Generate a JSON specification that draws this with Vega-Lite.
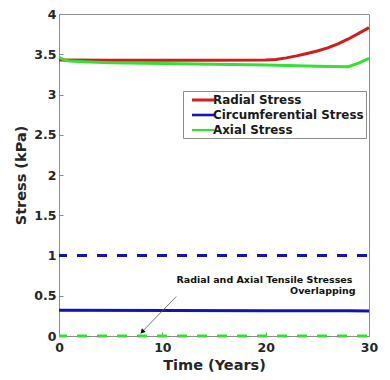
{
  "$schema": "https://vega.github.io/schema/vega-lite/v6.json",
  "autosize": "none",
  "width": 310,
  "height": 322,
  "padding": {"left": 59, "top": 14, "right": 21, "bottom": 44},
  "background": "white",
  "config": {
    "font": "DejaVu Sans",
    "view": {"stroke": "#8c8c8c", "strokeWidth": 1},
    "axis": {
      "grid": false,
      "domainColor": "#8c8c8c",
      "tickColor": "#8c8c8c",
      "labelFont": "DejaVu Sans",
      "labelFontWeight": "bold",
      "labelFontSize": 12.5,
      "labelColor": "#262626",
      "titleFont": "DejaVu Sans",
      "titleFontWeight": "bold",
      "titleFontSize": 14.5,
      "titleColor": "#262626"
    },
    "legend": {
      "labelFont": "DejaVu Sans",
      "labelFontWeight": "bold",
      "labelFontSize": 11.9,
      "labelColor": "#1a1a1a",
      "labelLimit": 300
    }
  },
  "datasets": {
    "main": [
      {"t": 0, "stress": 3.43, "series": "Radial Stress"},
      {"t": 5, "stress": 3.425, "series": "Radial Stress"},
      {"t": 10, "stress": 3.425, "series": "Radial Stress"},
      {"t": 15, "stress": 3.425, "series": "Radial Stress"},
      {"t": 20, "stress": 3.43, "series": "Radial Stress"},
      {"t": 21, "stress": 3.435, "series": "Radial Stress"},
      {"t": 22, "stress": 3.455, "series": "Radial Stress"},
      {"t": 23, "stress": 3.48, "series": "Radial Stress"},
      {"t": 24, "stress": 3.51, "series": "Radial Stress"},
      {"t": 25, "stress": 3.54, "series": "Radial Stress"},
      {"t": 26, "stress": 3.58, "series": "Radial Stress"},
      {"t": 27, "stress": 3.63, "series": "Radial Stress"},
      {"t": 28, "stress": 3.69, "series": "Radial Stress"},
      {"t": 29, "stress": 3.76, "series": "Radial Stress"},
      {"t": 30, "stress": 3.83, "series": "Radial Stress"},
      {"t": 0, "stress": 0.32, "series": "Circumferential Stress"},
      {"t": 11, "stress": 0.318, "series": "Circumferential Stress"},
      {"t": 20, "stress": 0.315, "series": "Circumferential Stress"},
      {"t": 28, "stress": 0.313, "series": "Circumferential Stress"},
      {"t": 30, "stress": 0.31, "series": "Circumferential Stress"},
      {"t": 0, "stress": 3.46, "series": "Axial Stress"},
      {"t": 0.5, "stress": 3.43, "series": "Axial Stress"},
      {"t": 1, "stress": 3.415, "series": "Axial Stress"},
      {"t": 3, "stress": 3.405, "series": "Axial Stress"},
      {"t": 5, "stress": 3.395, "series": "Axial Stress"},
      {"t": 10, "stress": 3.385, "series": "Axial Stress"},
      {"t": 15, "stress": 3.375, "series": "Axial Stress"},
      {"t": 20, "stress": 3.365, "series": "Axial Stress"},
      {"t": 25, "stress": 3.352, "series": "Axial Stress"},
      {"t": 28, "stress": 3.345, "series": "Axial Stress"},
      {"t": 29, "stress": 3.39, "series": "Axial Stress"},
      {"t": 30, "stress": 3.45, "series": "Axial Stress"}
    ],
    "tensile": [
      {"t": 0, "stress": 1.0, "series": "Circumferential Tensile"},
      {"t": 30, "stress": 1.0, "series": "Circumferential Tensile"},
      {"t": 0, "stress": 0.0, "series": "Radial and Axial Tensile"},
      {"t": 30, "stress": 0.0, "series": "Radial and Axial Tensile"}
    ],
    "note": [
      {"t": 28.4, "stress": 0.70, "label": "Radial and Axial Tensile Stresses"},
      {"t": 28.7, "stress": 0.56, "label": "Overlapping"}
    ],
    "arrow": [
      {"t": 11.34, "stress": 0.49, "t2": 8.1, "stress2": 0.06}
    ]
  },
  "layer": [
    {
      "data": {"name": "tensile"},
      "mark": {"type": "line", "strokeWidth": 3.2, "strokeDash": [10, 10], "strokeDashOffset": 2, "clip": false},
      "encoding": {
        "x": {"field": "t", "type": "quantitative"},
        "y": {"field": "stress", "type": "quantitative"},
        "detail": {"field": "series"},
        "stroke": {
          "field": "series",
          "type": "nominal",
          "scale": {"domain": ["Circumferential Tensile", "Radial and Axial Tensile"], "range": ["#1414b4", "#33e033"]},
          "legend": null
        }
      }
    },
    {
      "data": {"name": "main"},
      "mark": {"type": "line", "strokeWidth": 3, "clip": false},
      "encoding": {
        "x": {
          "field": "t",
          "type": "quantitative",
          "scale": {"domain": [0, 30], "nice": false},
          "axis": {"values": [0, 10, 20, 30], "title": "Time (Years)", "tickSize": -4, "labelPadding": 9, "titlePadding": 5, "labelFlush": false}
        },
        "y": {
          "field": "stress",
          "type": "quantitative",
          "scale": {"domain": [0, 4], "nice": false},
          "axis": {"values": [0, 0.5, 1, 1.5, 2, 2.5, 3, 3.5, 4], "format": "~g", "title": "Stress (kPa)", "tickSize": -4, "labelPadding": 7, "titlePadding": 5}
        },
        "color": {
          "field": "series",
          "type": "nominal",
          "sort": ["Radial Stress", "Circumferential Stress", "Axial Stress"],
          "scale": {"domain": ["Radial Stress", "Circumferential Stress", "Axial Stress"], "range": ["#d01e1e", "#1414b4", "#33e033"]},
          "legend": {
            "title": null,
            "orient": "none",
            "legendX": 124,
            "legendY": 77,
            "symbolType": "M0,0H4",
            "symbolSize": 121,
            "symbolStrokeWidth": 3,
            "labelOffset": 14,
            "rowPadding": 2,
            "padding": 2,
            "offset": 0,
            "strokeColor": "#8c8c8c",
            "fillColor": "white"
          }
        },
        "strokeWidth": {
          "field": "series",
          "type": "nominal",
          "scale": {"domain": ["Radial Stress", "Circumferential Stress", "Axial Stress"], "range": [3, 2.2, 3]},
          "legend": null
        }
      }
    },
    {
      "data": {"name": "arrow"},
      "mark": {"type": "rule", "color": "#555555", "strokeWidth": 0.8},
      "encoding": {
        "x": {"field": "t", "type": "quantitative"},
        "y": {"field": "stress", "type": "quantitative"},
        "x2": {"field": "t2"},
        "y2": {"field": "stress2"}
      }
    },
    {
      "data": {"name": "arrow"},
      "mark": {"type": "point", "shape": "triangle", "filled": true, "color": "#111111", "size": 30, "angle": 224, "opacity": 1},
      "encoding": {
        "x": {"field": "t2", "type": "quantitative"},
        "y": {"field": "stress2", "type": "quantitative"}
      }
    },
    {
      "data": {"name": "note"},
      "mark": {"type": "text", "align": "right", "baseline": "middle", "font": "DejaVu Sans", "fontWeight": "bold", "fontSize": 9.5, "color": "#111111"},
      "encoding": {
        "x": {"field": "t", "type": "quantitative"},
        "y": {"field": "stress", "type": "quantitative"},
        "text": {"field": "label"}
      }
    }
  ]
}
